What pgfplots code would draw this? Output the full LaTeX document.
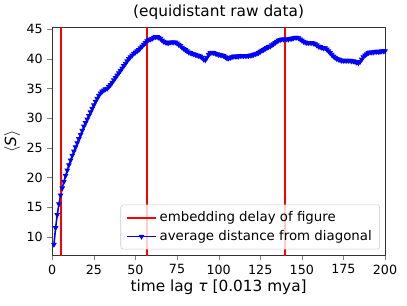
\documentclass[border=0pt]{standalone}
\usepackage{fontspec}
\setmainfont{DejaVu Sans}
\usepackage{pgfplots}
\pgfplotsset{compat=1.18}
\pgfplotstableread{
t s
1 8.7
2 11.5
3 13.7
4 15.5
5 17.0
6 18.2
7 19.3
8 20.3
9 21.2
10 22.1
11 22.9
12 23.7
13 24.4
14 25.1
15 25.8
16 26.5
17 27.2
18 27.9
19 28.6
20 29.2
21 29.8
22 30.4
23 31.0
24 31.6
25 32.2
26 32.8
27 33.3
28 33.8
29 34.2
30 34.5
31 34.7
32 34.9
33 35.0
34 35.3
35 35.6
36 36.0
37 36.4
38 36.8
39 37.2
40 37.6
41 38.0
42 38.4
43 38.8
44 39.2
45 39.6
46 40.0
47 40.3
48 40.6
49 40.9
50 41.1
51 41.3
52 41.5
53 41.8
54 42.1
55 42.4
56 42.7
57 43.0
58 43.2
59 43.3
60 43.4
61 43.6
62 43.7
63 43.7
64 43.6
65 43.4
66 43.1
67 42.9
68 42.8
69 42.7
70 42.7
71 42.8
72 42.8
73 42.8
74 42.8
75 42.6
76 42.4
77 42.2
78 41.9
79 41.7
80 41.5
81 41.3
82 41.1
83 41.0
84 40.9
85 40.8
86 40.7
87 40.6
88 40.5
89 40.4
90 40.2
91 39.9
92 39.8
93 40.2
94 40.7
95 41.0
96 41.05
97 41.0
98 40.9
99 40.8
100 40.7
101 40.65
102 40.6
103 40.5
104 40.3
105 40.1
106 40.1
107 40.2
108 40.3
109 40.4
110 40.4
111 40.4
112 40.4
113 40.5
114 40.5
115 40.5
116 40.5
117 40.5
118 40.5
119 40.6
120 40.6
121 40.7
122 40.8
123 40.9
124 41.0
125 41.2
126 41.4
127 41.5
128 41.7
129 41.85
130 42.0
131 42.1
132 42.3
133 42.5
134 42.7
135 42.9
136 43.1
137 43.2
138 43.3
139 43.3
140 43.3
141 43.3
142 43.3
143 43.4
144 43.4
145 43.5
146 43.6
147 43.6
148 43.5
149 43.3
150 43.1
151 42.9
152 42.8
153 42.7
154 42.7
155 42.7
156 42.7
157 42.6
158 42.5
159 42.3
160 42.1
161 42.0
162 41.9
163 41.8
164 41.8
165 41.6
166 41.3
167 41.0
168 40.7
169 40.4
170 40.2
171 40.0
172 39.9
173 39.8
174 39.7
175 39.7
176 39.7
177 39.7
178 39.7
179 39.7
180 39.6
181 39.6
182 39.5
183 39.4
184 39.3
185 39.5
186 39.9
187 40.3
188 40.6
189 40.8
190 41.0
191 41.1
192 41.1
193 41.1
194 41.2
195 41.2
196 41.2
197 41.2
198 41.3
199 41.3
200 41.3
}\datatab
\begin{document}
\begin{tikzpicture}
\begin{axis}[
  name=ax,
  width=249.5pt, height=170.8pt,
  scale only axis,
  xmin=0, xmax=200, ymin=6.9, ymax=45.3,
  xtick={0,25,...,200}, ytick={10,15,...,45},
  tick align=outside, tick pos=left,
  major tick length=3.6pt,
  /pgf/number format/assume math mode=true,
  tick label style={font=\fontsize{9.5}{11}\selectfont},
  label style={font=\fontsize{11.5}{13}\selectfont},
  title style={font=\fontsize{11.5}{13}\selectfont, yshift=-4pt},
  title={(equidistant raw data)},
  xlabel={time lag \textit{τ} [0.013 mya]},
  ylabel={\(\langle\)\textit{S}\(\rangle\)},
  xlabel style={yshift=3pt},
  ylabel style={yshift=-2pt},
  axis line style={black!80, line width=0.6pt},
  reverse legend,
  legend cell align=left,
  legend style={font=\fontsize{10}{12.5}\selectfont, draw=black!20, rounded corners=2pt,
    fill=white, fill opacity=0.8, text opacity=1, at={(0.985,0.025)}, anchor=south east,
    inner xsep=4pt, inner ysep=3pt, row sep=1pt},
  legend image code/.code={
    \draw[mark repeat=2, mark phase=2, #1] plot coordinates {(0cm,0cm) (0.38cm,0cm) (0.76cm,0cm)};
  },
]
\addplot[blue, line width=1.2pt, mark=triangle*, mark options={rotate=180, scale=0.95, line width=0.6pt}] table[x=t,y=s] {\datatab};
\addlegendentry{average distance from diagonal}
\addplot[red, line width=1.5pt] coordinates {(5,0) (5,50)};
\addlegendentry{embedding delay of figure}
\addplot[red, line width=1.5pt, forget plot] coordinates {(57,0) (57,50)};
\addplot[red, line width=1.5pt, forget plot] coordinates {(140,0) (140,50)};
\end{axis}
\pgfresetboundingbox
\path ([shift={(-39.2pt,-37.5pt)}]ax.south west) rectangle ([shift={(16.5pt,20.5pt)}]ax.north east);
\end{tikzpicture}
\end{document}
